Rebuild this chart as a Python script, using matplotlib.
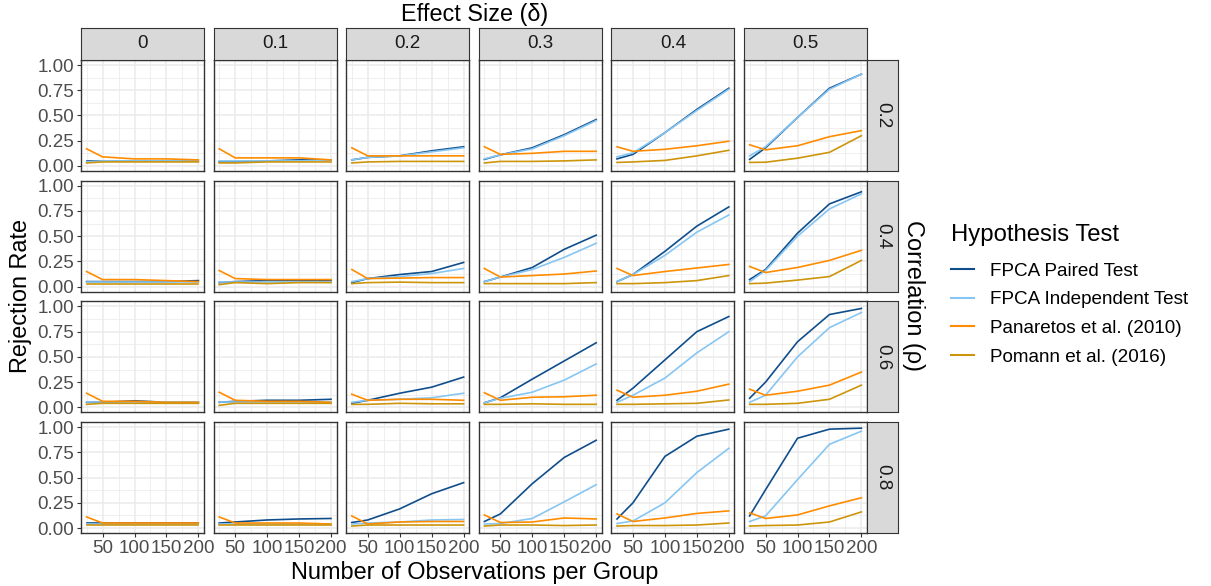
import matplotlib
matplotlib.use("Agg")
import matplotlib.pyplot as plt
from matplotlib.lines import Line2D

plt.rcParams['font.family'] = ['Liberation Sans', 'DejaVu Sans']

n_obs = [25, 50, 100, 150, 200]
deltas = ["0", "0.1", "0.2", "0.3", "0.4", "0.5"]
rhos = ["0.2", "0.4", "0.6", "0.8"]
tests = ["FPCA Paired Test", "FPCA Independent Test",
         "Panaretos et al. (2010)", "Pomann et al. (2016)"]
colors = ["#104E8B", "#87C6F2", "#FF8C00", "#CD950C"]

# rejection rates [rho][delta] -> one list per test
paired = [
    [[0.05, 0.05, 0.05, 0.05, 0.05], [0.04, 0.04, 0.05, 0.06, 0.06], [0.06, 0.085, 0.10, 0.15, 0.19],
     [0.065, 0.11, 0.18, 0.31, 0.46], [0.07, 0.115, 0.33, 0.56, 0.77], [0.065, 0.18, 0.48, 0.77, 0.91]],
    [[0.05, 0.05, 0.05, 0.05, 0.06], [0.04, 0.05, 0.06, 0.06, 0.06], [0.04, 0.08, 0.12, 0.15, 0.24],
     [0.05, 0.095, 0.19, 0.37, 0.51], [0.05, 0.12, 0.35, 0.60, 0.79], [0.07, 0.17, 0.53, 0.82, 0.94]],
    [[0.05, 0.05, 0.065, 0.05, 0.05], [0.05, 0.06, 0.07, 0.07, 0.08], [0.04, 0.07, 0.14, 0.20, 0.30],
     [0.045, 0.095, 0.28, 0.46, 0.64], [0.07, 0.19, 0.47, 0.75, 0.90], [0.09, 0.25, 0.65, 0.92, 0.98]],
    [[0.05, 0.05, 0.05, 0.05, 0.05], [0.05, 0.06, 0.08, 0.09, 0.095], [0.055, 0.08, 0.19, 0.34, 0.45],
     [0.065, 0.14, 0.44, 0.70, 0.87], [0.09, 0.25, 0.71, 0.91, 0.98], [0.12, 0.38, 0.89, 0.98, 0.99]],
]
independent = [
    [[0.04, 0.05, 0.05, 0.05, 0.05], [0.05, 0.05, 0.05, 0.05, 0.06], [0.06, 0.085, 0.10, 0.14, 0.18],
     [0.07, 0.11, 0.17, 0.30, 0.45], [0.09, 0.13, 0.33, 0.55, 0.76], [0.10, 0.19, 0.48, 0.76, 0.91]],
    [[0.05, 0.05, 0.05, 0.05, 0.05], [0.05, 0.05, 0.05, 0.05, 0.05], [0.05, 0.08, 0.10, 0.13, 0.18],
     [0.05, 0.095, 0.17, 0.29, 0.43], [0.05, 0.12, 0.31, 0.54, 0.71], [0.05, 0.16, 0.50, 0.77, 0.92]],
    [[0.05, 0.05, 0.05, 0.05, 0.05], [0.05, 0.05, 0.05, 0.05, 0.05], [0.05, 0.07, 0.08, 0.095, 0.14],
     [0.045, 0.09, 0.15, 0.27, 0.43], [0.05, 0.12, 0.29, 0.54, 0.75], [0.05, 0.12, 0.50, 0.79, 0.94]],
    [[0.04, 0.04, 0.04, 0.04, 0.04], [0.04, 0.04, 0.04, 0.04, 0.04], [0.04, 0.05, 0.06, 0.08, 0.085],
     [0.04, 0.045, 0.095, 0.26, 0.43], [0.045, 0.07, 0.25, 0.55, 0.79], [0.065, 0.12, 0.48, 0.83, 0.96]],
]
panaretos = [
    [[0.17, 0.09, 0.07, 0.07, 0.06], [0.17, 0.08, 0.08, 0.08, 0.06], [0.18, 0.10, 0.10, 0.10, 0.10],
     [0.19, 0.115, 0.125, 0.145, 0.145], [0.19, 0.145, 0.165, 0.20, 0.245], [0.21, 0.16, 0.20, 0.29, 0.35]],
    [[0.15, 0.07, 0.07, 0.06, 0.05], [0.16, 0.08, 0.07, 0.07, 0.07], [0.17, 0.08, 0.085, 0.09, 0.09],
     [0.18, 0.095, 0.11, 0.125, 0.155], [0.18, 0.11, 0.15, 0.185, 0.22], [0.20, 0.14, 0.19, 0.26, 0.36]],
    [[0.14, 0.06, 0.06, 0.05, 0.05], [0.15, 0.07, 0.06, 0.06, 0.05], [0.13, 0.07, 0.08, 0.08, 0.07],
     [0.145, 0.07, 0.10, 0.105, 0.12], [0.17, 0.10, 0.12, 0.16, 0.23], [0.18, 0.12, 0.16, 0.22, 0.35]],
    [[0.11, 0.05, 0.05, 0.05, 0.05], [0.11, 0.05, 0.05, 0.05, 0.04], [0.12, 0.04, 0.06, 0.065, 0.065],
     [0.13, 0.055, 0.06, 0.10, 0.09], [0.14, 0.065, 0.10, 0.145, 0.17], [0.15, 0.095, 0.13, 0.22, 0.30]],
]
pomann = [
    [[0.03, 0.04, 0.04, 0.04, 0.04], [0.03, 0.03, 0.04, 0.04, 0.04], [0.03, 0.04, 0.045, 0.045, 0.045],
     [0.03, 0.045, 0.045, 0.05, 0.06], [0.035, 0.04, 0.055, 0.10, 0.155], [0.035, 0.037, 0.077, 0.135, 0.30]],
    [[0.03, 0.03, 0.03, 0.03, 0.03], [0.02, 0.04, 0.03, 0.04, 0.04], [0.03, 0.04, 0.045, 0.04, 0.04],
     [0.03, 0.03, 0.03, 0.03, 0.04], [0.03, 0.03, 0.04, 0.06, 0.11], [0.03, 0.035, 0.065, 0.10, 0.26]],
    [[0.03, 0.04, 0.04, 0.04, 0.04], [0.02, 0.04, 0.04, 0.04, 0.04], [0.03, 0.03, 0.04, 0.035, 0.035],
     [0.03, 0.03, 0.035, 0.03, 0.03], [0.03, 0.03, 0.035, 0.04, 0.073], [0.03, 0.03, 0.04, 0.08, 0.22]],
    [[0.03, 0.03, 0.03, 0.03, 0.03], [0.03, 0.03, 0.03, 0.03, 0.03], [0.02, 0.03, 0.03, 0.03, 0.03],
     [0.02, 0.03, 0.03, 0.025, 0.03], [0.02, 0.025, 0.025, 0.03, 0.05], [0.02, 0.025, 0.03, 0.06, 0.16]],
]
series = [paired, independent, panaretos, pomann]

W, H = 1211, 586
fig = plt.figure(figsize=(W / 100, H / 100), dpi=100)

def px(x, y, w, h):
    return [x / W, 1 - (y + h) / H, w / W, h / H]

left0, colstep, pw = 81, 132.6, 123
top0, rowstep, ph = 60, 120.7, 111
strip_h, strip_w = 32, 31
edge = "#333333"

for r in range(len(rhos)):
    for c in range(len(deltas)):
        x0 = left0 + c * colstep
        y0 = top0 + r * rowstep
        ax = fig.add_axes(px(x0, y0, pw, ph))
        ax.set_xlim(16.25, 208.75)
        ax.set_ylim(-0.05, 1.05)
        ax.set_xticks([50, 100, 150, 200])
        ax.set_xticks([25, 75, 125, 175], minor=True)
        ax.set_yticks([0, 0.25, 0.5, 0.75, 1.0])
        ax.set_yticks([0.125, 0.375, 0.625, 0.875], minor=True)
        ax.grid(which="major", color="#ebebeb", lw=1.1)
        ax.grid(which="minor", color="#ebebeb", lw=0.55)
        ax.set_axisbelow(True)
        for s in ax.spines.values():
            s.set_color(edge)
            s.set_linewidth(1.0)
        ax.tick_params(which="minor", length=0)
        ax.tick_params(which="major", length=3, color=edge, labelsize=13.5,
                       labelcolor="#4d4d4d", pad=2)
        if c == 0:
            ax.set_yticklabels(["0.00", "0.25", "0.50", "0.75", "1.00"])
        else:
            ax.tick_params(axis="y", length=0, labelleft=False)
        if r == len(rhos) - 1:
            ax.set_xticklabels(["50", "100", "150", "200"])
        else:
            ax.tick_params(axis="x", length=0, labelbottom=False)
        for k in range(len(tests)):
            ax.plot(n_obs, series[k][r][c], color=colors[k], lw=1.2)

        if r == 0:
            sax = fig.add_axes(px(x0, y0 - strip_h, pw, strip_h))
            sax.set_xticks([]); sax.set_yticks([])
            sax.set_facecolor("#d9d9d9")
            for s in sax.spines.values():
                s.set_color(edge)
            sax.text(0.5, 0.5, deltas[c], ha="center", va="center",
                     fontsize=13.5, color="#1a1a1a", transform=sax.transAxes)
        if c == len(deltas) - 1:
            sax = fig.add_axes(px(x0 + pw, y0, strip_w, ph))
            sax.set_xticks([]); sax.set_yticks([])
            sax.set_facecolor("#d9d9d9")
            for s in sax.spines.values():
                s.set_color(edge)
            sax.text(0.5, 0.5, rhos[r], ha="center", va="center", rotation=-90,
                     fontsize=13.5, color="#1a1a1a", transform=sax.transAxes)

fig.text(475 / W, 1 - 15 / H, "Effect Size (δ)", ha="center", va="center", fontsize=16.8)
fig.text(475 / W, 1 - 573 / H, "Number of Observations per Group", ha="center", va="center", fontsize=16.9)
fig.text(21 / W, 1 - 296 / H, "Rejection Rate", ha="center", va="center", rotation=90, fontsize=16.9)
fig.text(913 / W, 1 - 296 / H, "Correlation (ρ)", ha="center", va="center", rotation=-90, fontsize=16.9)

handles = [Line2D([], [], color=colors[k], lw=1.5) for k in range(len(tests))]
leg = fig.legend(handles, tests, loc="upper left", bbox_to_anchor=(934 / W, 1 - 207 / H),
                 frameon=False, fontsize=13.6, title="Hypothesis Test", title_fontsize=17.2,
                 handlelength=1.2, handletextpad=0.85, labelspacing=0.6)
leg._legend_box.align = "left"
leg._legend_box.sep = 12

fig.savefig("out.png", dpi=100)
